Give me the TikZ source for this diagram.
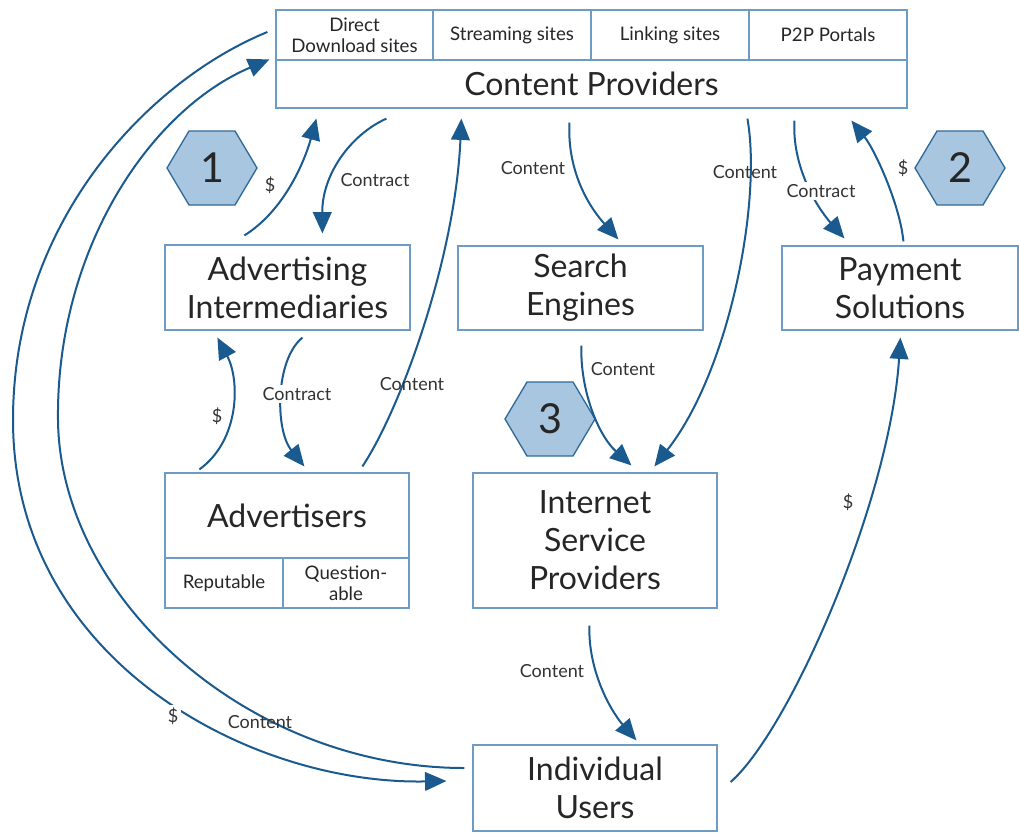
\documentclass[tikz,border=0pt]{standalone}
\usepackage{fontspec}
\setmainfont{Lato}
\usetikzlibrary{arrows.meta,calc}
\definecolor{arr}{HTML}{1A5A8E}
\definecolor{boxc}{HTML}{6E9BC4}
\definecolor{hexfill}{HTML}{A8C6E0}
\definecolor{hexline}{HTML}{2F6A9A}
\newcommand\hexat[4]{%
  \draw[hexa] (#1-45,#2) -- (#1-23,#2-37) -- (#1+23,#2-37) -- (#1+45,#2) -- (#1+23,#2+37) -- (#1-23,#2+37) -- cycle;
  \node[font=\fontsize{31}{31}\selectfont,text=black!85] (#3) at (#1,#2) {#4};}
\begin{document}
\begin{tikzpicture}[x=0.75pt,y=-0.75pt,
  sz/.style 2 args={minimum width=#1*0.75pt,minimum height=#2*0.75pt},
  box/.style={draw=boxc,line width=0.9pt,inner sep=0pt,align=center,text=black!85,font=\fontsize{24}{28.5}\selectfont},
  cell/.style={box,font=\fontsize{14}{15.5}\selectfont},
  flow/.style={draw=arr,line width=1.5pt,-{Triangle[length=16pt,width=14pt]}},
  lab/.style={font=\fontsize{13.5}{14}\selectfont,text=black!80,inner sep=1pt},
  wlab/.style={lab,fill=white,inner sep=2pt},
  hexa/.style={draw=hexline,fill=hexfill,line width=1pt}]
\useasboundingbox (0,0) rectangle (1019,832);
% boxes
\node[cell,sz={157}{50}] (c1) at (354.5,35) {Direct\\Download sites};
\node[cell,sz={158}{50}] (c2) at (512,35) {Streaming sites};
\node[cell,sz={158}{50}] (c3) at (670,35) {Linking sites};
\node[cell,sz={158}{50}] (c4) at (828,35) {P2P Portals};
\node[box,sz={631}{48}] (cp) at (591.5,84) {Content Providers};
\node[box,sz={245}{85}] (ai) at (287.5,287.5) {Advertising\\Intermediaries};
\node[box,sz={245}{84}] (se) at (580.5,288) {Search\\Engines};
\node[box,sz={236}{84}] (ps) at (900,288) {Payment\\Solutions};
\node[box,sz={244}{85}] (adv) at (287,515.5) {Advertisers};
\node[cell,sz={118}{50}] (rep) at (224,583) {Reputable};
\node[cell,sz={126}{50}] (que) at (346,583) {Question-\\able};
\node[box,sz={244}{135}] (isp) at (595,540.5) {Internet\\Service\\Providers};
\node[box,sz={244}{86}] (iu) at (595,788) {Individual\\Users};
% hexagons
\hexat{212}{168}{h1}{1}
\hexat{960}{168}{h2}{2}
\hexat{550}{419}{h3}{3}
% connectors
\draw[flow] ($(ai.north west)+(80,-9)$) .. controls (285,210) and (305,160) .. ($(cp.south west)+(41,10)$);
\draw[flow] ($(cp.south west)+(111,10)$) .. controls (350,135) and (322,175) .. ($(ai.north west)+(158,-11)$);
\draw[flow] ($(adv.north west)+(198,-6)$) .. controls (400,410) and (455,260) .. ($(cp.south west)+(186,10)$);
\draw[flow] ($(adv.north west)+(35,-3)$) .. controls (240,440) and (240,380) .. ($(ai.south west)+(53,7)$);
\draw[flow] ($(ai.south west)+(138,7)$) .. controls (275,360) and (275,430) .. ($(adv.north west)+(140,-6)$);
\draw[flow] ($(cp.south west)+(294,14)$) .. controls (567,175) and (592,210) .. ($(se.north west)+(161,-6)$);
\draw[flow] ($(cp.south west)+(472,10)$) .. controls (762,200) and (730,370) .. ($(isp.north west)+(182,-6)$);
\draw[flow] ($(cp.south west)+(519,12)$) .. controls (792,165) and (815,205) .. ($(ps.north west)+(63,-7)$);
\draw[flow] ($(ps.north west)+(122,-4)$) .. controls (900,205) and (875,150) .. ($(cp.south west)+(576,12)$);
\draw[flow] ($(se.south west)+(124,15)$) .. controls (580,390) and (598,435) .. ($(isp.north west)+(159,-7)$);
\draw[flow] ($(isp.south west)+(117,17)$) .. controls (588,670) and (610,710) .. ($(iu.north west)+(164,-4)$);
\draw[flow] ($(iu.east)+(13,-6)$) .. controls (790,730) and (890,500) .. ($(ps.south west)+(119,7)$);
\draw[flow] ($(c1.west)+(-8,-3)$) .. controls (150,80) and (13,220) .. (13,420) .. controls (13,660) and (250,785) .. ($(iu.west)+(-26,-7)$);
\draw[flow] ($(iu.west)+(-8,-20)$) .. controls (250,768) and (60,600) .. (58,420) .. controls (56,250) and (150,110) .. ($(cp.north west)+(-6,0)$);
% labels
\node[lab] (l1) at (270,185) {\$};
\node[lab] (l2) at (375,180) {Contract};
\node[lab] (l3) at (412,384) {Content};
\node[lab] (l4) at (217,416) {\$};
\node[wlab] (l5) at (297,394) {Contract};
\node[lab] (l6) at (533,168) {Content};
\node[lab] (l7) at (745,172) {Content};
\node[wlab] (l8) at (821,191) {Contract};
\node[lab] (l9) at (903,168) {\$};
\node[lab] (l10) at (623,369) {Content};
\node[lab] (l11) at (552,671) {Content};
\node[lab] (l12) at (848,502) {\$};
\node[wlab] (l13) at (173,716) {\$};
\node[lab] (l14) at (260,722) {Content};
\end{tikzpicture}
\end{document}
